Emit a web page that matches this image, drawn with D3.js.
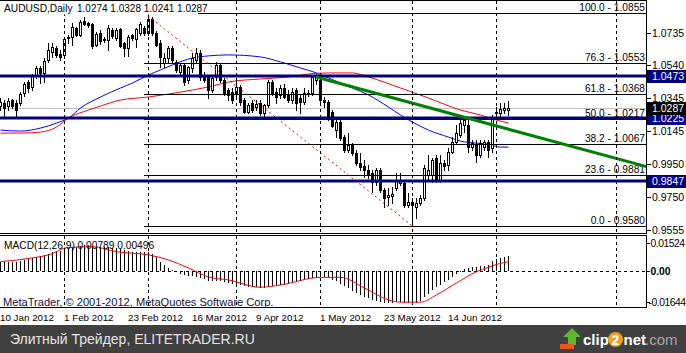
<!DOCTYPE html>
<html><head><meta charset="utf-8">
<script src="https://cdn.jsdelivr.net/npm/d3@7"></script>
<style>
body{margin:0;background:#fff;}
svg{display:block;}
text{font-family:"Liberation Sans",Arial,sans-serif;}
</style></head><body>
<svg id="chart" width="686" height="353"></svg>
<script>
// AUDUSD daily, 10 Jan 2012 .. 5 Jul 2012 (bar index 0..127)
var opens = [1.0296,1.0314,1.0296,1.0332,1.0314,1.0314,1.0374,1.0440,1.0410,1.0482,
 1.0524,1.0494,1.0572,1.0620,1.0643,1.0608,1.0602,1.0703,1.0709,1.0763,
 1.0721,1.0805,1.0793,1.0787,1.0661,1.0733,1.0697,1.0691,1.0751,1.0703,
 1.0757,1.0673,1.0643,1.0721,1.0697,1.0733,1.0763,1.0733,1.0817,1.0733,
 1.0673,1.0554,1.0584,1.0643,1.0560,1.0500,1.0542,1.0452,1.0524,1.0572,
 1.0614,1.0482,1.0470,1.0392,1.0470,1.0542,1.0452,1.0392,1.0380,1.0374,
 1.0410,1.0332,1.0260,1.0314,1.0290,1.0314,1.0254,1.0302,1.0440,1.0380,
 1.0362,1.0404,1.0362,1.0332,1.0392,1.0344,1.0320,1.0374,1.0374,1.0452,
 1.0452,1.0332,1.0320,1.0260,1.0152,1.0200,1.0110,1.0032,1.0062,1.0014,
 0.9955,0.9937,0.9913,0.9895,0.9841,0.9913,0.9793,0.9751,0.9757,0.9805,
 0.9835,0.9835,0.9703,0.9721,0.9691,0.9715,0.9745,0.9883,0.9883,0.9985,
 0.9853,0.9955,0.9943,1.0020,1.0080,1.0122,1.0182,1.0182,1.0050,1.0062,
 1.0003,1.0050,1.0080,1.0044,1.0254,1.0254,1.0272,1.0274];
var highs = [1.0344,1.0332,1.0344,1.0338,1.0332,1.0380,1.0440,1.0452,1.0488,1.0536,
 1.0536,1.0584,1.0673,1.0673,1.0655,1.0631,1.0703,1.0721,1.0793,1.0769,
 1.0811,1.0829,1.0799,1.0793,1.0739,1.0751,1.0709,1.0781,1.0763,1.0763,
 1.0763,1.0679,1.0721,1.0727,1.0763,1.0799,1.0775,1.0855,1.0829,1.0745,
 1.0691,1.0614,1.0655,1.0655,1.0572,1.0548,1.0554,1.0536,1.0614,1.0643,
 1.0631,1.0500,1.0482,1.0476,1.0560,1.0554,1.0464,1.0404,1.0404,1.0464,
 1.0422,1.0344,1.0314,1.0332,1.0332,1.0332,1.0308,1.0452,1.0452,1.0404,
 1.0422,1.0428,1.0392,1.0404,1.0404,1.0368,1.0404,1.0392,1.0476,1.0488,
 1.0476,1.0350,1.0332,1.0272,1.0224,1.0212,1.0122,1.0134,1.0074,1.0032,
 1.0014,0.9973,0.9943,0.9913,0.9925,0.9925,0.9805,0.9805,0.9811,0.9895,
 0.9895,0.9853,0.9775,0.9745,0.9745,0.9763,0.9943,1.0003,0.9985,1.0003,
 1.0003,0.9973,1.0044,1.0110,1.0182,1.0212,1.0224,1.0212,1.0092,1.0092,
 1.0092,1.0092,1.0092,1.0242,1.0290,1.0314,1.0314,1.0328];
var lows = [1.0272,1.0230,1.0272,1.0284,1.0230,1.0302,1.0356,1.0380,1.0392,1.0464,
 1.0434,1.0440,1.0560,1.0590,1.0590,1.0572,1.0584,1.0673,1.0661,1.0715,
 1.0715,1.0781,1.0769,1.0643,1.0655,1.0667,1.0679,1.0631,1.0703,1.0691,
 1.0649,1.0596,1.0596,1.0691,1.0649,1.0721,1.0721,1.0721,1.0721,1.0655,
 1.0530,1.0530,1.0560,1.0554,1.0500,1.0488,1.0422,1.0434,1.0500,1.0554,
 1.0452,1.0440,1.0344,1.0380,1.0452,1.0440,1.0362,1.0332,1.0314,1.0350,
 1.0302,1.0254,1.0254,1.0260,1.0272,1.0242,1.0224,1.0290,1.0362,1.0314,
 1.0344,1.0344,1.0320,1.0314,1.0272,1.0254,1.0308,1.0356,1.0362,1.0428,
 1.0320,1.0290,1.0212,1.0170,1.0110,1.0092,1.0020,1.0020,1.0003,0.9943,
 0.9913,0.9871,0.9865,0.9781,0.9823,0.9781,0.9691,0.9703,0.9715,0.9793,
 0.9823,0.9691,0.9691,0.9580,0.9625,0.9703,0.9733,0.9853,0.9841,0.9841,
 0.9841,0.9913,0.9913,1.0014,1.0074,1.0110,1.0140,1.0020,1.0032,0.9961,
 0.9991,1.0032,0.9991,1.0020,1.0230,1.0230,1.0254,1.0241];
var closes = [1.0320,1.0284,1.0326,1.0296,1.0272,1.0368,1.0428,1.0404,1.0476,1.0524,
 1.0494,1.0566,1.0631,1.0649,1.0602,1.0590,1.0697,1.0709,1.0769,1.0721,
 1.0799,1.0787,1.0781,1.0655,1.0727,1.0685,1.0691,1.0763,1.0715,1.0751,
 1.0655,1.0643,1.0709,1.0703,1.0757,1.0787,1.0733,1.0817,1.0733,1.0661,
 1.0590,1.0584,1.0643,1.0572,1.0512,1.0542,1.0440,1.0530,1.0584,1.0614,
 1.0470,1.0452,1.0392,1.0464,1.0542,1.0452,1.0374,1.0362,1.0332,1.0410,
 1.0320,1.0260,1.0302,1.0272,1.0308,1.0254,1.0302,1.0440,1.0374,1.0350,
 1.0404,1.0350,1.0332,1.0380,1.0314,1.0320,1.0374,1.0368,1.0470,1.0470,
 1.0332,1.0320,1.0224,1.0176,1.0200,1.0104,1.0032,1.0062,1.0014,0.9955,
 0.9931,0.9913,0.9883,0.9841,0.9913,0.9793,0.9745,0.9763,0.9769,0.9853,
 0.9853,0.9703,0.9721,0.9703,0.9715,0.9745,0.9925,0.9913,0.9973,0.9853,
 0.9955,0.9937,1.0020,1.0080,1.0134,1.0194,1.0212,1.0050,1.0074,1.0003,
 1.0074,1.0080,1.0032,1.0230,1.0260,1.0278,1.0284,1.0287];

// moving averages: [bar, price]
var maBlue = [[0,1.0152],[5,1.0146],[10,1.0164],[14,1.0194],[17,1.0224],[20,1.0284],[25,1.0350],
 [30,1.0404],[33,1.0434],[37,1.0482],[40,1.0512],[43,1.0542],[48,1.0584],[52,1.0596],[57,1.0602],
 [65,1.0590],[70,1.0560],[75,1.0524],[79,1.0494],[82,1.0464],[88,1.0404],[92,1.0362],[97,1.0290],
 [100,1.0242],[103,1.0200],[107,1.0152],[112,1.0110],[115,1.0086],[119,1.0074],[122,1.0068],
 [125,1.0050],[127,1.0050]];
var maRed = [[0,1.0134],[5,1.0134],[10,1.0140],[14,1.0170],[17,1.0224],[22,1.0272],[25,1.0296],
 [30,1.0332],[37,1.0350],[42,1.0368],[48,1.0392],[53,1.0416],[57,1.0440],[65,1.0458],[72,1.0470],
 [77,1.0488],[82,1.0494],[88,1.0494],[92,1.0470],[100,1.0404],[107,1.0344],[115,1.0272],
 [120,1.0242],[124,1.0212],[127,1.0194]];

// MACD(12,26,9) main values (x0.001) and signal line samples
var macdMain = [4.8,4.8,4.9,5.0,5.0,5.4,5.9,6.3,6.8,7.4,
 8.0,8.6,9.3,10.0,10.4,10.6,11.3,12.0,12.6,13.0,
 13.5,13.8,13.9,13.4,13.3,13.0,12.7,12.8,12.4,12.2,
 11.6,11.0,10.8,10.4,10.2,10.3,9.9,10.1,9.2,7.6,
 5.0,3.2,1.6,0.4,-0.5,-1.4,-2.2,-2.6,-2.9,-3.2,
 -3.8,-4.4,-5.2,-5.4,-5.2,-5.4,-6.0,-6.5,-7.0,-7.0,
 -7.5,-8.0,-8.4,-8.6,-8.8,-9.0,-9.2,-8.4,-8.2,-8.0,
 -7.6,-7.2,-6.8,-6.4,-6.0,-5.4,-4.8,-4.4,-3.6,-3.0,
 -3.0,-3.2,-3.8,-4.8,-5.6,-6.8,-8.0,-9.2,-10.5,-11.8,
 -12.8,-13.8,-14.6,-15.5,-15.8,-16.4,-17.0,-17.2,-17.0,-16.6,
 -16.6,-17.2,-17.3,-17.4,-17.0,-16.2,-14.0,-12.2,-10.4,-8.8,
 -7.4,-6.0,-4.6,-3.0,-1.6,-0.4,0.8,1.6,2.0,2.3,
 2.6,2.8,3.0,5.2,6.4,7.0,7.4,7.89];
var macdSignal = [[0,5.0],[8,7.0],[12,8.6],[17,12.6],[23,13.0],[29,10.3],[37,8.6],[42,5.9],[47,1.6],
 [52,-3.2],[57,-4.8],[65,-8.7],[70,-7.5],[80,-3.4],[85,-3.4],[91,-9.1],[97,-15.5],[100,-16.7],
 [105,-16.7],[109,-12.8],[114,-6.4],[119,-0.4],[122,2.0],[124,3.5],[127,4.96]];

var navyLevels = [1.0473, 1.0225, 0.9847];
var fibPcts = ["0.0","23.6","38.2","50.0","61.8","76.3","100.0"];
var fibPrices = [0.9580, 0.9881, 1.0067, 1.0217, 1.0368, 1.0553, 1.0855];
var fibFrom = [36, 1.0855], fibTo = [103, 0.9580];
var greenFrom = [79, 1.0470], greenTo = [127, 1.0158];
var priceTicks = [1.0735, 1.0540, 1.0345, 1.0145, 0.9950, 0.9750, 0.9555];
var macdTicks = [0.01524, 0.00, -0.01644];
var dateLabels = ["10 Jan 2012","1 Feb 2012","23 Feb 2012","16 Mar 2012","9 Apr 2012","1 May 2012","23 May 2012","14 Jun 2012"];
var dateIdx = [0,16,32,48,64,80,96,112];
var monthSeps = [16,37,59,80,103,124,154];

var svg = d3.select("#chart");
var R = 646.5;
var x = d3.scaleLinear().domain([0,127]).range([0,508]);
var y = d3.scaleLinear().domain([0.9555,1.0735]).range([229.8,32.7]);
var ym = d3.scaleLinear().domain([-0.01644,0.01524]).range([301.7,242.5]);
var px = function(i){ return Math.round(x(i)); };
var py = function(p){ return Math.round(y(p)) + 0.5; };

svg.append("rect").attr("width",686).attr("height",353).attr("fill","#fff");

var defs = svg.append("defs");
defs.append("clipPath").attr("id","cMain").append("rect").attr("x",0).attr("y",1).attr("width",R).attr("height",232);
defs.append("clipPath").attr("id","cMacd").append("rect").attr("x",0).attr("y",236).attr("width",R).attr("height",71);

var gm = svg.append("g").attr("clip-path","url(#cMain)");
var gd = svg.append("g").attr("clip-path","url(#cMacd)");

// month separators
monthSeps.forEach(function(i){
  [[1,233],[236,307]].forEach(function(r){
    svg.append("line").attr("x1",px(i)+0.5).attr("x2",px(i)+0.5).attr("y1",r[0]).attr("y2",r[1])
      .attr("stroke","#000").attr("stroke-dasharray","3,3");
  });
});

// bid line
gm.append("line").attr("x1",0).attr("x2",R).attr("y1",py(closes[127])).attr("y2",py(closes[127]))
  .attr("stroke","#c0c0c0");

// moving averages
var maLine = d3.line().x(function(d){return x(d[0])+0.5;}).y(function(d){return y(d[1]);}).curve(d3.curveMonotoneX);
gm.append("path").attr("d",maLine(maBlue)).attr("fill","none").attr("stroke","#0000ff");
gm.append("path").attr("d",maLine(maRed)).attr("fill","none").attr("stroke","#ff0000");

// candles
var gc = gm.append("g").attr("shape-rendering","crispEdges");
closes.forEach(function(c,i){
  var o = opens[i], cx = px(i);
  gc.append("line").attr("x1",cx+0.5).attr("x2",cx+0.5).attr("y1",Math.round(y(highs[i]))).attr("y2",Math.round(y(lows[i]))+1)
    .attr("stroke","#000");
  var top = Math.round(y(Math.max(o,c))), bot = Math.round(y(Math.min(o,c)));
  if (c < o) {
    gc.append("rect").attr("x",cx-1).attr("y",top).attr("width",3).attr("height",Math.max(1,bot-top+1)).attr("fill","#000");
  } else {
    gc.append("rect").attr("x",cx-0.5).attr("y",top+0.5).attr("width",2).attr("height",Math.max(0,bot-top))
      .attr("fill","#fff").attr("stroke","#000");
  }
});

// fibonacci levels
fibPrices.forEach(function(p,k){
  gm.append("line").attr("x1",x(fibFrom[0])).attr("x2",R).attr("y1",py(p)).attr("y2",py(p)).attr("stroke","#000");
  gm.append("text").attr("x",645).attr("y",py(p)-2.5).attr("text-anchor","end").attr("font-size","10.2px")
    .attr("fill","#000").text(fibPcts[k] + " - " + p.toFixed(4));
});
gm.append("line").attr("x1",x(fibFrom[0])).attr("y1",y(fibFrom[1])).attr("x2",x(fibTo[0])).attr("y2",y(fibTo[1]))
  .attr("stroke","#ff0000").attr("stroke-dasharray","2,3");

// horizontal support/resistance
navyLevels.forEach(function(p){
  gm.append("line").attr("x1",0).attr("x2",R).attr("y1",Math.round(y(p))).attr("y2",Math.round(y(p)))
    .attr("stroke","#000080").attr("stroke-width",3);
});

// green trend line (ray)
var gx0 = x(greenFrom[0]), gy0 = y(greenFrom[1]), gx1 = x(greenTo[0]), gy1 = y(greenTo[1]);
var slope = (gy1-gy0)/(gx1-gx0);
gm.append("line").attr("x1",gx0).attr("y1",gy0).attr("x2",R).attr("y2",gy0+slope*(R-gx0))
  .attr("stroke","#008000").attr("stroke-width",3);

// title
svg.append("rect").attr("x",0).attr("y",1).attr("width",198).attr("height",13.5).attr("fill","#fff");
svg.append("text").attr("x",4).attr("y",12).attr("font-size","10.2px").text("AUDUSD,Daily");
svg.append("text").attr("x",77).attr("y",12).attr("font-size","10px")
  .text([opens[127],highs[127],lows[127],closes[127]].map(function(v){return v.toFixed(4);}).join(" "));

// MACD pane
gd.append("line").attr("x1",0).attr("x2",R).attr("y1",Math.round(ym(0))+0.5).attr("y2",Math.round(ym(0))+0.5)
  .attr("stroke","#000").attr("stroke-dasharray","3,3");
var gh = gd.append("g").attr("shape-rendering","crispEdges");
macdMain.forEach(function(v,i){
  gh.append("line").attr("x1",px(i)+0.5).attr("x2",px(i)+0.5).attr("y1",Math.round(ym(0))).attr("y2",Math.round(ym(v/1000)))
    .attr("stroke","#000");
});
var sigLine = d3.line().x(function(d){return x(d[0])+0.5;}).y(function(d){return ym(d[1]/1000);}).curve(d3.curveMonotoneX);
gd.append("path").attr("d",sigLine(macdSignal)).attr("fill","none").attr("stroke","#ff0000");
svg.append("text").attr("x",4).attr("y",249).attr("font-size","10.2px")
  .text("MACD(12,26,9) " + (macdMain[127]/1000).toFixed(5) + " " + (macdSignal[macdSignal.length-1][1]/1000).toFixed(5));
svg.append("text").attr("x",3).attr("y",306).attr("font-size","11.1px").attr("fill","#10103a")
  .text("MetaTrader, \u00a9 2001-2012, MetaQuotes Software Corp.");

// frames
var frame = svg.append("g").attr("stroke","#000").attr("shape-rendering","crispEdges");
[0.5,233.5,235.5,307.5].forEach(function(v){
  frame.append("line").attr("x1",0).attr("x2",R).attr("y1",v).attr("y2",v);
});
frame.append("line").attr("x1",R).attr("x2",R).attr("y1",0).attr("y2",234);
frame.append("line").attr("x1",R).attr("x2",R).attr("y1",235).attr("y2",308);

// price axis
priceTicks.forEach(function(p){
  var yy = Math.round(y(p))+0.5;
  frame.append("line").attr("x1",R).attr("x2",R+4).attr("y1",yy).attr("y2",yy);
  svg.append("text").attr("x",652).attr("y",yy+3.8).attr("font-size","10.5px").text(p.toFixed(4));
});
macdTicks.forEach(function(v){
  var yy = Math.round(ym(v))+0.5;
  frame.append("line").attr("x1",R).attr("x2",R+3).attr("y1",yy).attr("y2",yy);
  svg.append("text").attr("x",v < 0 ? 648.5 : 650.5).attr("y",yy+3.8).attr("font-size","10.3px")
    .attr("letter-spacing", v === 0 ? "0px" : "-0.45px")
    .attr("font-weight",v === 0 ? "bold" : "normal").text(v === 0 ? "0.00" : v.toFixed(5));
});
function tag(p, color){
  var yy = Math.round(y(p))+0.5;
  svg.append("rect").attr("x",647).attr("y",yy-6.5).attr("width",39).attr("height",13).attr("fill",color);
  svg.append("text").attr("x",652).attr("y",yy+3.8).attr("font-size","10.5px").attr("fill","#fff").text(p.toFixed(4));
}
navyLevels.forEach(function(p){ tag(p,"#000080"); });
tag(closes[127],"#000");

// date axis
dateLabels.forEach(function(s,k){
  svg.append("text").attr("x",x(dateIdx[k])).attr("y",321).attr("font-size","9.8px").text(s);
});

// footer
svg.append("rect").attr("x",0).attr("y",325).attr("width",686).attr("height",28).attr("fill","#404040");
svg.append("text").attr("x",10).attr("y",344).attr("font-size","14px").attr("fill","#e4e4e4")
  .text("Элитный Трейдер, ELITETRADER.RU");
svg.append("polygon").attr("points","572,328 581,337 576,337 576,345 568,345 568,337 563,337").attr("fill","#5db82f");
svg.append("rect").attr("x",560).attr("y",344).attr("width",14).attr("height",5).attr("fill","#e8591c");
svg.append("text").attr("x",583).attr("y",345).attr("font-size","15px").attr("font-weight","bold").attr("fill","#fff").text("clip");
svg.append("circle").attr("cx",615.5).attr("cy",339.5).attr("r",7.5).attr("fill","#f0a020");
svg.append("text").attr("x",615.5).attr("y",344.5).attr("text-anchor","middle").attr("font-size","14px").attr("font-weight","bold").attr("fill","#fff").text("2");
svg.append("text").attr("x",623.5).attr("y",345).attr("font-size","15px").attr("font-weight","bold").attr("fill","#fff").text("net");
svg.append("text").attr("x",645).attr("y",345).attr("font-size","15px").attr("fill","#a8a8a8").text(".com");
</script>
</body></html>
